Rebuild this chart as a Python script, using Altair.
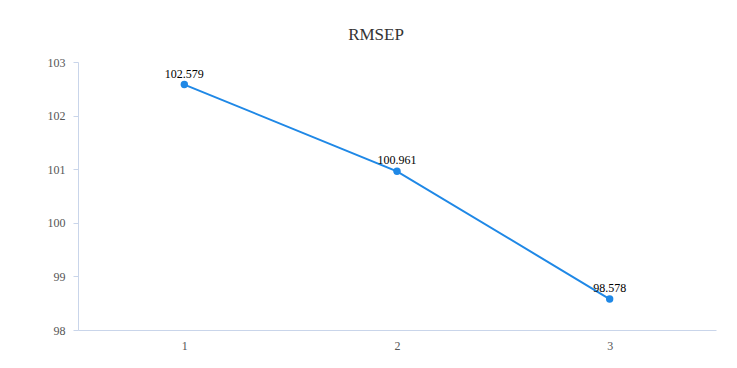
import altair as alt
import pandas as pd

categories = ["1", "2", "3"]
values = [102.579, 100.961, 98.578]
labels = ["102.579", "100.961", "98.578"]

df = pd.DataFrame({"k": categories, "v": values, "lab": labels})

FONT = "Liberation Serif"
x = alt.X("k:N", sort=categories, title=None,
          scale=alt.Scale(paddingInner=0, paddingOuter=0),
          axis=alt.Axis(labelAngle=0, ticks=False, domainColor="#c9d5ea",
                        labelColor="#555555", labelFont=FONT, labelFontSize=12,
                        labelPadding=10, grid=False))
y = alt.Y("v:Q", title=None,
          scale=alt.Scale(domain=[98, 103], nice=False, zero=False),
          axis=alt.Axis(values=[98, 99, 100, 101, 102, 103], grid=False,
                        domainColor="#c9d5ea", tickColor="#c9d5ea", tickSize=5,
                        labelColor="#555555", labelFont=FONT, labelFontSize=12,
                        labelPadding=8, format="d"))

base = alt.Chart(df).encode(x=x, y=y)
line = base.mark_line(color="#1f88e6", strokeWidth=2)
pts = base.mark_point(filled=True, size=55, color="#1f88e6", opacity=1)
txt = base.mark_text(dy=-11, font=FONT, fontSize=12, color="#000000").encode(text="lab:N")

chart = (line + pts + txt).properties(
    width=638, height=268,
    autosize=alt.AutoSizeParams(type="none"),
    padding={"left": 70, "top": 54, "right": 10, "bottom": 30},
    title=alt.TitleParams("RMSEP", font=FONT, fontSize=17, fontWeight="normal",
                          color="#333333", anchor="middle", offset=12, dx=-21),
).configure_view(stroke=None)

chart.save("out.html", embed_options={"renderer": "svg", "actions": False})
